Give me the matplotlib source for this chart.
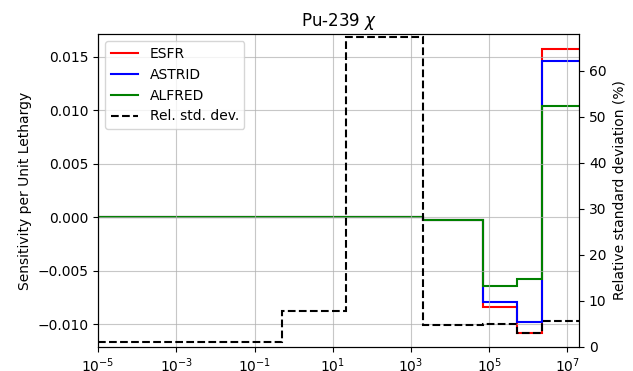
import numpy as np
import matplotlib
matplotlib.use("Agg")
import matplotlib.pyplot as plt

# energy group boundaries (eV)
edges = [1e-5, 0.5, 21.5, 2.0e3, 6.8e4, 5.0e5, 2.3e6, 2.0e7]

# sensitivity per unit lethargy, one value per group
esfr = [0.0, 0.0, 0.0, -0.0003, -0.0084, -0.01076, 0.01574]
astrid = [0.0, 0.0, 0.0, -0.0003, -0.0079, -0.00982, 0.01458]
alfred = [0.0, 0.0, 0.0, -0.0003, -0.0064, -0.00578, 0.01035]

# relative standard deviation (%)
rsd = [1.15, 7.7, 67.4, 4.8, 5.0, 3.1, 5.6]

fig, ax = plt.subplots(figsize=(6.33, 3.71), dpi=100)
fig.subplots_adjust(left=0.155, right=0.915, bottom=0.065, top=0.908)

ax.stairs(esfr, edges, color="red", lw=1.5, label="ESFR", baseline=None)
ax.stairs(astrid, edges, color="blue", lw=1.5, label="ASTRID", baseline=None)
ax.stairs(alfred, edges, color="green", lw=1.5, label="ALFRED", baseline=None)
ax.set_xscale("log")
ax.set_xlim(1e-5, 2.0e7)
ax.set_ylim(-0.0121, 0.0171)
ax.set_ylabel("Sensitivity per Unit Lethargy")
ax.set_title(r"Pu-239 $\chi$")
ax.grid(True, color="#b0b0b0", alpha=0.7)
ax.set_xticks([1e-5, 1e-3, 1e-1, 1e1, 1e3, 1e5, 1e7])
ax.xaxis.set_minor_locator(matplotlib.ticker.NullLocator())

ax2 = ax.twinx()
ax2.stairs(rsd, edges, color="black", linestyle="--", lw=1.5,
           label="Rel. std. dev.", baseline=None)
ax2.set_ylim(0, 68)
ax2.set_ylabel("Relative standard deviation (%)")

h1, l1 = ax.get_legend_handles_labels()
h2, l2 = ax2.get_legend_handles_labels()
ax2.legend(h1 + h2, l1 + l2, loc="upper left")

fig.savefig("out.png")
